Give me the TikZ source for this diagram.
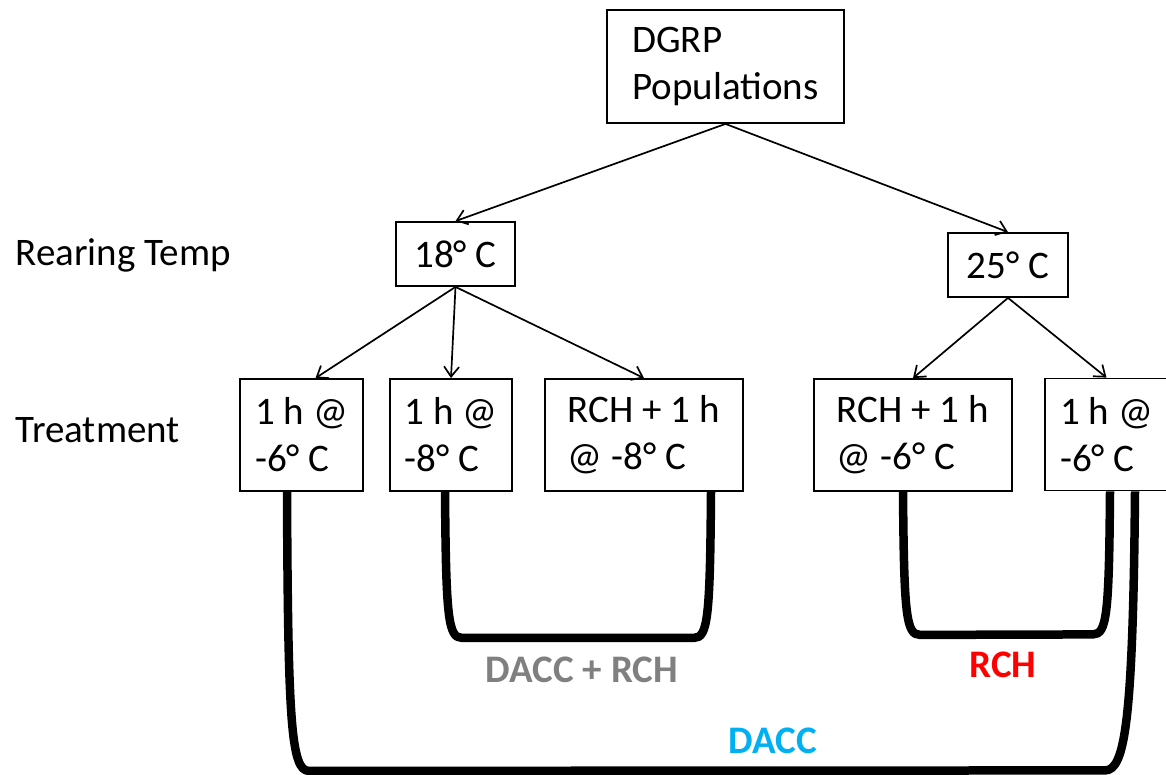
\documentclass[tikz,border=0pt]{standalone}
\usepackage{fontspec}
\setmainfont{Carlito}
\usetikzlibrary{arrows.meta,calc}
\definecolor{daccblue}{RGB}{0,176,240}
\definecolor{daccgray}{RGB}{128,128,128}
\definecolor{rchred}{RGB}{255,0,0}
\begin{document}
\begin{tikzpicture}[x=1pt,y=-1pt,
  every node/.style={font=\fontsize{39}{47}\selectfont},
  box/.style={draw=black,line width=1.8pt,align=left,inner sep=0pt,minimum height=112pt},
  tbox/.style={draw=black,line width=1.8pt,inner sep=0pt,minimum height=64pt},
  arr/.style={line width=1.7pt,-{Straight Barb[length=10pt,width=15pt,line width=1.7pt]}},
  bracket/.style={line width=8.5pt,line join=round},
  lab/.style={font=\fontsize{39}{47}\selectfont\bfseries}
]
\useasboundingbox[fill=white] (0,0) rectangle (1166,774);

\node[box,minimum width=237pt,minimum height=113pt] (dgrp) at (725.5,66.5) {DGRP\\Populations};
\node[tbox,minimum width=119pt] (t18) at (455.5,254) {18° C};
\node[tbox,minimum width=120pt] (t25) at (1008,265) {25° C};

\node[anchor=base west] (rear) at (12,265) {Rearing Temp};
\node[anchor=base west] (treat) at (12,442) {Treatment};

\node[box,minimum width=123pt] (b1) at (301.5,435) {1 h @\\-6° C};
\node[box,minimum width=122pt] (b2) at (451,435) {1 h @\\-8° C};
\node[box,minimum width=198pt] (b3) at (644,435) {RCH + 1 h\\@ -8° C};
\node[box,minimum width=198pt] (b4) at (913,435) {RCH + 1 h\\@ -6° C};
\node[box,minimum width=123pt] (b5) at (1106.5,434.5) {1 h @\\-6° C};

\draw[arr] (dgrp.south) -- (t18.north);
\draw[arr] (dgrp.south) -- (t25.north);
\draw[arr] (t18.south) -- ([xshift=14pt]b1.north);
\draw[arr] (t18.south) -- (b2.north);
\draw[arr] (t18.south) -- (b3.north);
\draw[arr] (t25.south) -- (b4.north);
\draw[arr] (t25.south) -- (b5.north);

% DACC bracket
\coordinate (d1) at ([xshift=-14.5pt]b1.south);
\coordinate (d2) at ([xshift=28.5pt]b5.south);
\draw[bracket] (d1) .. controls ($(d1)+(1,230)$) and ($(d1)+(4,279)$) .. ($(d1)+(22,279)$)
  -- ($(d2)+(-30,279)$) .. controls ($(d2)+(-10,279)$) and ($(d2)+(-2,230)$) .. (d2);

% DACC + RCH bracket
\coordinate (e1) at ([xshift=-6pt]b2.south);
\coordinate (e2) at ([xshift=67pt]b3.south);
\draw[bracket] (e1) .. controls ($(e1)+(1,125)$) and ($(e1)+(3,146)$) .. ($(e1)+(17,146)$)
  -- ($(e2)+(-17,146)$) .. controls ($(e2)+(-3,146)$) and ($(e2)+(-1,125)$) .. (e2);

% RCH bracket
\coordinate (r1) at ([xshift=-10pt]b4.south);
\coordinate (r2) at ([xshift=3.5pt]b5.south);
\draw[bracket] (r1) .. controls ($(r1)+(1,122)$) and ($(r1)+(3,143)$) .. ($(r1)+(17,143)$)
  -- ($(r2)+(-17,143)$) .. controls ($(r2)+(-3,143)$) and ($(r2)+(-1,122)$) .. (r2);

\node[lab,text=daccgray] (lgray) at (582,670) {DACC + RCH};
\node[lab,text=rchred] (lred) at (1003,665) {RCH};
\node[lab,text=daccblue] (lblue) at (773,741) {DACC};
\end{tikzpicture}
\end{document}
